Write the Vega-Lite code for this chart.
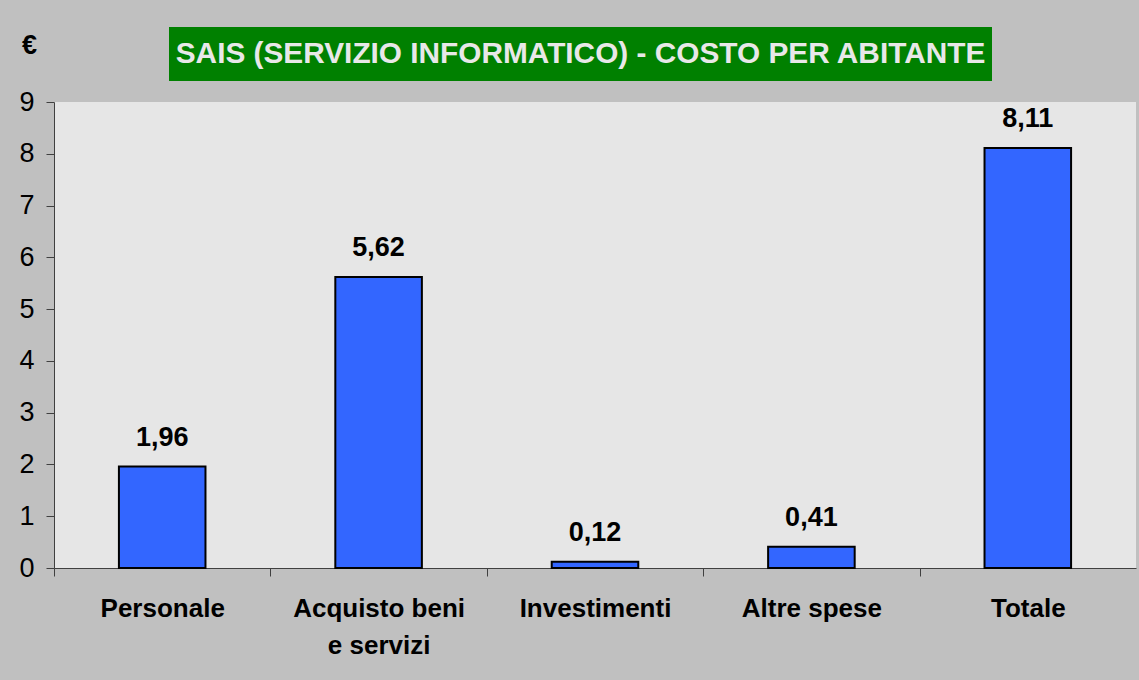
{
  "$schema": "https://vega.github.io/schema/vega-lite/v6.json",
  "background": "#c0c0c0",
  "padding": {"left": 18, "top": 27, "right": 4, "bottom": 25},
  "config": {
    "font": "Liberation Sans",
    "locale": {"number": {"decimal": ",", "thousands": ".", "grouping": [3], "currency": ["€", ""]}}
  },
  "spacing": -50,
  "vconcat": [
    {
      "spacing": 0,
      "hconcat": [
        {
          "width": 115,
          "height": 54,
          "view": {"fill": "#c0c0c0", "stroke": null},
          "data": {"values": [{"vuoto": ""}]},
          "mark": {"type": "text"},
          "encoding": {"text": {"field": "vuoto", "type": "nominal"}}
        },
        {
          "width": 823,
          "height": 54,
          "view": {"fill": "#008000", "stroke": null},
          "data": {"values": [{"titolo": "SAIS (SERVIZIO INFORMATICO) - COSTO PER ABITANTE"}]},
          "mark": {"type": "text", "font": "Liberation Sans", "fontWeight": "bold", "fontSize": 29.8, "color": "#e8e8e8", "align": "center", "baseline": "middle"},
          "encoding": {"text": {"field": "titolo", "type": "nominal"}}
        }
      ]
    },
    {
      "width": 1082,
      "height": 466,
      "view": {"fill": "#e6e6e6", "stroke": null},
      "data": {"values": [
        {"voce": "Personale", "valore": 1.96},
        {"voce": "Acquisto beni\ne servizi", "valore": 5.62},
        {"voce": "Investimenti", "valore": 0.12},
        {"voce": "Altre spese", "valore": 0.41},
        {"voce": "Totale", "valore": 8.11}
      ]},
      "encoding": {
        "x": {
          "field": "voce", "type": "nominal", "sort": null,
          "scale": {"paddingInner": 0.6, "paddingOuter": 0.3},
          "axis": {
            "title": null, "labelAngle": 0, "labelFont": "Liberation Sans", "labelFontSize": 26, "labelFontWeight": "bold",
            "labelColor": "#000000", "labelExpr": "split(datum.label, '\\n')", "labelLineHeight": 37,
            "labelBaseline": "top", "labelPadding": 19, "labelLimit": 400,
            "tickOffset": -108.2, "labelOffset": 108.2,
            "tickSize": 8, "tickColor": "#404040", "domainColor": "#404040", "grid": false
          }
        },
        "y": {
          "field": "valore", "type": "quantitative",
          "scale": {"domain": [0, 9], "nice": false},
          "axis": {
            "title": "€", "titleAngle": 0, "titleX": -25, "titleY": -57, "titleAlign": "center", "titleBaseline": "middle",
            "titleFontSize": 27, "titleFontWeight": "bold", "titleColor": "#000000", "titleFont": "Liberation Sans",
            "values": [0, 1, 2, 3, 4, 5, 6, 7, 8, 9], "format": "d",
            "labelFont": "Liberation Sans", "labelFontSize": 27, "labelColor": "#000000", "labelPadding": 12,
            "tickSize": 8, "tickColor": "#404040", "domainColor": "#404040", "grid": false
          }
        }
      },
      "layer": [
        {"mark": {"type": "bar", "color": "#3366ff", "stroke": "#000000", "strokeWidth": 2}},
        {
          "mark": {"type": "text", "font": "Liberation Sans", "fontWeight": "bold", "fontSize": 27, "baseline": "alphabetic", "dy": -21, "color": "#000000"},
          "encoding": {"text": {"field": "valore", "type": "quantitative", "format": ".2f"}}
        }
      ]
    }
  ]
}
